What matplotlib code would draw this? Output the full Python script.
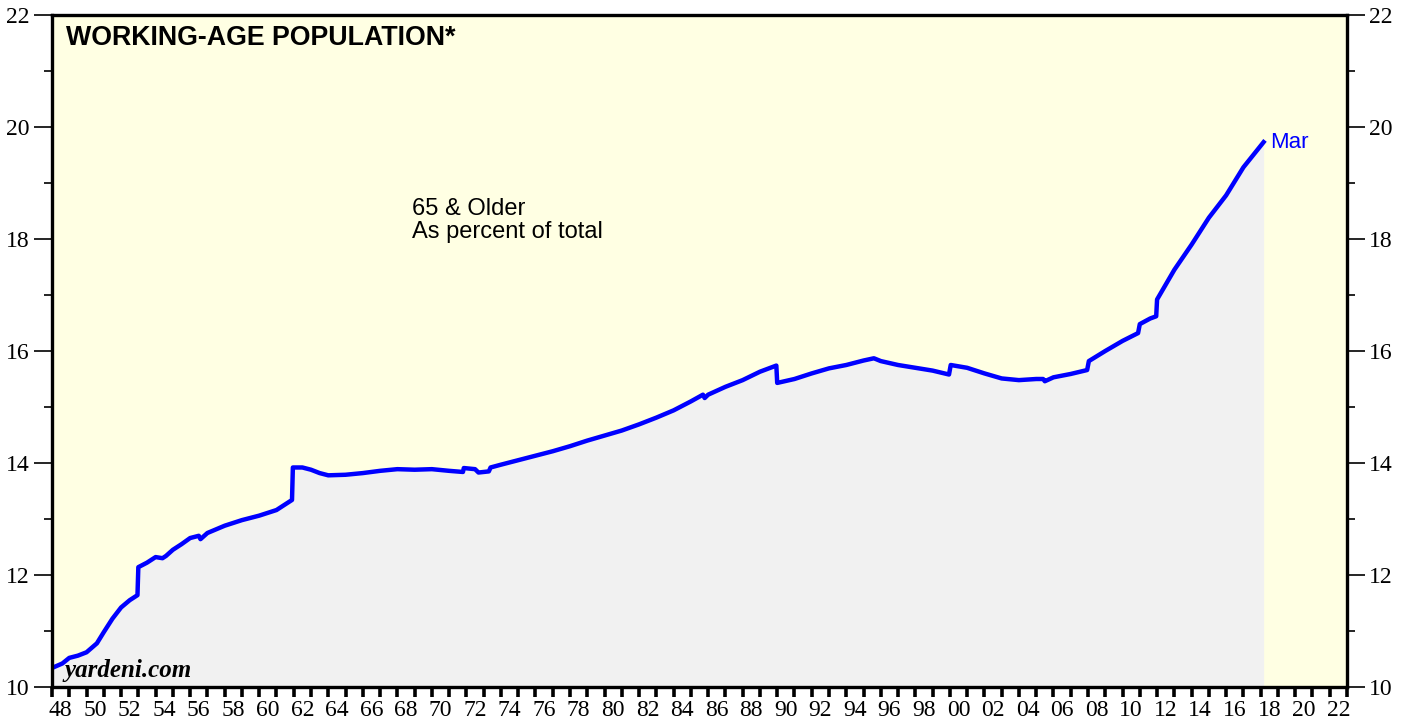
import numpy as np
import matplotlib
matplotlib.use("Agg")
import matplotlib.pyplot as plt
from matplotlib.ticker import FixedLocator, NullFormatter

plt.rcParams["font.family"] = "Liberation Serif"

# 65 & older as percent of working-age population
years = [1948.0, 1948.6, 1949.0, 1949.5, 1950.0, 1950.6, 1951.0, 1951.5, 1952.0, 1952.5, 1952.95,
         1953.0, 1953.5, 1954.0, 1954.4, 1954.6, 1955.0, 1955.5, 1956.0, 1956.5, 1956.6, 1957.0,
         1958.0, 1959.0, 1960.0, 1961.0, 1961.5, 1961.9, 1961.95, 1962.5, 1963.0, 1963.5, 1964.0,
         1965.0, 1966.0, 1967.0, 1968.0, 1969.0, 1970.0, 1971.0, 1971.8, 1971.85, 1972.5, 1972.7,
         1973.3, 1973.4, 1974.0, 1975.0, 1976.0, 1977.0, 1978.0, 1979.0, 1980.0, 1981.0, 1982.0,
         1983.0, 1984.0, 1985.0, 1985.7, 1985.8, 1986.0, 1987.0, 1988.0, 1989.0, 1989.95, 1990.0,
         1991.0, 1992.0, 1993.0, 1994.0, 1995.0, 1995.6, 1996.0, 1997.0, 1998.0, 1999.0, 1999.95,
         2000.05, 2001.0, 2002.0, 2003.0, 2004.0, 2005.0, 2005.4, 2005.5, 2006.0, 2007.0, 2007.95,
         2008.05, 2009.0, 2010.0, 2010.9, 2011.0, 2011.6, 2011.95, 2012.0, 2013.0, 2014.0, 2015.0,
         2016.0, 2017.0, 2018.17]
pct_65_older = [10.34, 10.42, 10.52, 10.56, 10.62, 10.78, 10.98, 11.22, 11.42, 11.55, 11.64,
                12.14, 12.22, 12.32, 12.30, 12.34, 12.45, 12.55, 12.66, 12.70, 12.64, 12.75,
                12.88, 12.98, 13.06, 13.16, 13.26, 13.34, 13.92, 13.92, 13.88, 13.82, 13.78,
                13.79, 13.82, 13.86, 13.89, 13.88, 13.89, 13.86, 13.84, 13.91, 13.89, 13.83,
                13.85, 13.92, 13.97, 14.05, 14.13, 14.21, 14.30, 14.40, 14.49, 14.58, 14.69,
                14.81, 14.94, 15.10, 15.22, 15.16, 15.22, 15.36, 15.48, 15.63, 15.74, 15.43,
                15.50, 15.60, 15.69, 15.75, 15.83, 15.87, 15.82, 15.75, 15.70, 15.65, 15.58,
                15.75, 15.70, 15.60, 15.51, 15.48, 15.50, 15.50, 15.46, 15.53, 15.59, 15.66,
                15.82, 16.00, 16.18, 16.32, 16.48, 16.58, 16.62, 16.92, 17.45, 17.90, 18.38,
                18.78, 19.28, 19.73]

x_labels = ["48", "50", "52", "54", "56", "58", "60", "62", "64", "66", "68", "70", "72",
            "74", "76", "78", "80", "82", "84", "86", "88", "90", "92", "94", "96", "98",
            "00", "02", "04", "06", "08", "10", "12", "14", "16", "18", "20", "22"]

fig = plt.figure(figsize=(14.08, 7.21), dpi=100)
ax = fig.add_axes([52 / 1408, 1 - 687 / 721, 1295 / 1408, 672 / 721])
ax.set_facecolor("#ffffe3")

ax.fill_between(years, pct_65_older, 10, color="#f1f1f1", lw=0)
ax.plot(years, pct_65_older, color="#0000ff", lw=3.2, solid_joinstyle="round")

ax.set_xlim(1948, 2023)
ax.set_ylim(10, 22)

# x axis: a tick each year, labels centered in the even years
ax.xaxis.set_major_locator(FixedLocator(np.arange(1948, 2024)))
ax.xaxis.set_major_formatter(NullFormatter())
ax.xaxis.set_minor_locator(FixedLocator(np.arange(1948.5, 2023, 2)))
ax.set_xticklabels(x_labels, minor=True)
ax.tick_params(axis="x", which="major", direction="out", length=7, width=2.6, color="black")
ax.tick_params(axis="x", which="minor", length=0, pad=9, labelsize=17)

ax.set_yticks(np.arange(10, 23, 2))
ax.set_yticks(np.arange(11, 22, 2), minor=True)
ax.tick_params(axis="y", which="major", direction="out", length=13, width=1.2,
               labelsize=17, right=True, labelright=True, pad=3)
ax.tick_params(axis="y", which="minor", direction="out", length=6, width=1.2, right=True)

for s in ax.spines.values():
    s.set_linewidth(2.4)

ax.text(0.011, 0.985, "WORKING-AGE POPULATION*", transform=ax.transAxes, ha="left", va="top",
        fontsize=19.3, fontweight="bold", family="Liberation Sans")
ax.text(1968.85, 18.73, "65 & Older\nAs percent of total", ha="left", va="top",
        fontsize=17, family="Liberation Sans", linespacing=1.07)
ax.text(years[-1] + 0.35, pct_65_older[-1], "Mar", color="#0000ff", ha="left", va="center",
        fontsize=16, family="Liberation Sans")
ax.text(0.01, 0.008, "yardeni.com", transform=ax.transAxes, ha="left", va="bottom",
        fontsize=18, fontweight="bold", fontstyle="italic", family="Liberation Serif")

fig.savefig("out.png", dpi=100)
